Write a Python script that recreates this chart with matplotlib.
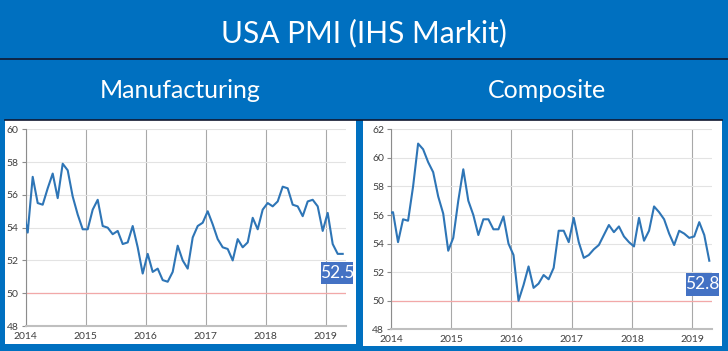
import numpy as np
import matplotlib
matplotlib.use("Agg")
import matplotlib.pyplot as plt
from matplotlib.patches import Rectangle
from matplotlib.lines import Line2D

# Data: monthly PMI, Dec 2013 .. Apr 2019 (Dec 2013 only feeds the clipped start of the line)
start_year = 2013
start_month = 12
manufacturing = [55.3,
                 53.7, 57.1, 55.5, 55.4, 56.4, 57.3, 55.8, 57.9, 57.5, 55.9, 54.8, 53.9,
                 53.9, 55.1, 55.7, 54.1, 54.0, 53.6, 53.8, 53.0, 53.1, 54.1, 52.8, 51.2,
                 52.4, 51.3, 51.5, 50.8, 50.7, 51.3, 52.9, 52.0, 51.5, 53.4, 54.1, 54.3,
                 55.0, 54.2, 53.3, 52.8, 52.7, 52.0, 53.3, 52.8, 53.1, 54.6, 53.9, 55.1,
                 55.5, 55.3, 55.6, 56.5, 56.4, 55.4, 55.3, 54.7, 55.6, 55.7, 55.3, 53.8,
                 54.9, 53.0, 52.4, 52.4]
composite = [56.1,
             56.2, 54.1, 55.7, 55.6, 58.0, 61.0, 60.6, 59.7, 59.0, 57.3, 56.1, 53.5,
             54.4, 57.0, 59.2, 57.0, 56.0, 54.6, 55.7, 55.7, 55.0, 55.0, 55.9, 54.0,
             53.2, 50.0, 51.1, 52.4, 50.9, 51.2, 51.8, 51.5, 52.3, 54.9, 54.9, 54.1,
             55.8, 54.1, 53.0, 53.2, 53.6, 53.9, 54.6, 55.3, 54.8, 55.2, 54.5, 54.1,
             53.8, 55.8, 54.2, 54.9, 56.6, 56.2, 55.7, 54.7, 53.9, 54.9, 54.7, 54.4,
             54.5, 55.5, 54.6, 52.8]
latest_labels = ["52.5", "52.8"]
year_ticks = [2014, 2015, 2016, 2017, 2018, 2019]

BG = "#0070C0"
LINE = "#2E75B6"
BOX = "#4472C4"
FONT = "Lato"


def month_positions(n):
    # points sit ~0.4 month into each month, ticks at Jan 1
    idx = np.arange(n)
    return start_year + (start_month - 1 + idx + 0.4) / 12.0


fig = plt.figure(figsize=(7.28, 3.51), dpi=100, facecolor=BG)
W, H = 728.0, 351.0


def px_rect(x0, y0, x1, y1):
    return [x0 / W, 1 - y1 / H, (x1 - x0) / W, (y1 - y0) / H]


# white panels (behind the axes)
for r in [(5, 120, 356, 344), (363, 120, 722, 346)]:
    fig.patches.append(Rectangle((r[0] / W, 1 - r[3] / H), (r[2] - r[0]) / W, (r[3] - r[1]) / H,
                                 transform=fig.transFigure, facecolor="white", edgecolor="none",
                                 zorder=-5))
fig.lines.append(Line2D([0, 1], [1 - 59 / H, 1 - 59 / H], transform=fig.transFigure, color="#101830", lw=1.2))
fig.lines.append(Line2D([5 / W, 722 / W], [1 - 120 / H, 1 - 120 / H], transform=fig.transFigure, color="#101830", lw=1.2))

fig.text(364 / W, 1 - 33 / H, "USA PMI (IHS Markit)", color="white", fontsize=21.5,
         family=FONT, ha="center", va="center")
fig.text(180 / W, 1 - 91 / H, "Manufacturing", color="white", fontsize=18,
         family=FONT, ha="center", va="center")
fig.text(547 / W, 1 - 91 / H, "Composite", color="white", fontsize=18,
         family=FONT, ha="center", va="center")

panels = [
    (manufacturing, (25.7, 129.3, 345.7, 326.0), (48, 60), latest_labels[0], (321.0, 262.0, 353.0, 284.0)),
    (composite, (391.0, 129.3, 712.3, 329.3), (48, 62), latest_labels[1], (686.0, 273.0, 718.5, 295.5)),
]

for values, rect, ylim, label, box in panels:
    ax = fig.add_axes(px_rect(*rect))
    ax.patch.set_alpha(0)
    x = month_positions(len(values))
    ax.plot(x, values, color=LINE, lw=1.5, zorder=3)
    ax.axhline(50, color="#F2A8A8", lw=0.9, zorder=2)
    ax.set_xlim(2014, 2019 + 4 / 12.0)
    ax.set_ylim(*ylim)
    ax.set_yticks(np.arange(ylim[0], ylim[1] + 1, 2))
    ax.set_xticks(year_ticks)
    ax.set_xticklabels([str(y) for y in year_ticks])
    ax.grid(axis="y", color="#E3E3E3", lw=0.8, zorder=0)
    ax.grid(axis="x", color="#A8A8A8", lw=0.8, zorder=0)
    for s in ["top", "right"]:
        ax.spines[s].set_visible(False)
    ax.spines["left"].set_color("#8C8C8C")
    ax.spines["left"].set_linewidth(0.8)
    ax.spines["bottom"].set_color("#BFBFBF")
    ax.spines["bottom"].set_linewidth(1.5)
    ax.tick_params(axis="y", length=3, width=0.8, color="#8C8C8C", labelsize=7.5,
                   labelcolor="#404040", pad=2)
    ax.tick_params(axis="x", length=0, labelsize=7.5, labelcolor="#404040", pad=4)
    for t in ax.get_xticklabels() + ax.get_yticklabels():
        t.set_family(FONT)

    # latest value box
    fig.patches.append(Rectangle((box[0] / W, 1 - box[3] / H), (box[2] - box[0]) / W, (box[3] - box[1]) / H,
                                 transform=fig.transFigure, facecolor=BOX, edgecolor="none", zorder=5))
    fig.text((box[0] + box[2]) / 2 / W, 1 - (box[1] + box[3]) / 2 / H, label, color="white",
             fontsize=12.5, family=FONT, ha="center", va="center", zorder=6)

fig.savefig("out.png", dpi=100, facecolor=BG)
